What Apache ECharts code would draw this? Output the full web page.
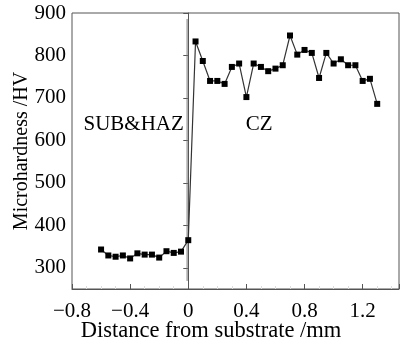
<!DOCTYPE html>
<html><head><meta charset="utf-8">
<script src="https://cdn.jsdelivr.net/npm/echarts@6/dist/echarts.min.js"></script>
<style>html,body{margin:0;padding:0;background:#fff}#c{width:410px;height:342px}</style>
</head><body><div id="c"></div>
<script>
var distance = [-0.60,-0.55,-0.50,-0.45,-0.40,-0.35,-0.30,-0.25,-0.20,-0.15,-0.10,-0.05,0.00,
  0.05,0.10,0.15,0.20,0.25,0.30,0.35,0.40,0.45,0.50,0.55,0.60,0.65,0.70,0.75,0.80,0.85,0.90,0.95,1.00,1.05,1.10,1.15,1.20,1.25,1.30];
var hardness = [343,329,326,329,322,334,331,331,324,339,335,338,365,
  833,787,740,740,733,773,781,702,781,773,763,769,777,847,802,813,806,747,806,781,791,777,777,740,745,686];
var boundaryX = [-0.008,-0.008];
var boundaryY = [269,886];
var xTicks = [-0.8,-0.4,0,0.4,0.8,1.2];
var yTicks = [300,400,500,600,700,800,900];
var zoneLabels = ["SUB&HAZ","CZ"];
var zoneX = [-0.376,0.488];
var zoneY = [638,638];

var font = '"Liberation Serif", "Times New Roman", serif';
var pts = distance.map(function(d,i){return [d,hardness[i]];});
var bnd = boundaryX.map(function(d,i){return [d,boundaryY[i]];});
var chart = echarts.init(document.getElementById('c'), null, {renderer:'canvas'});
chart.setOption({
  animation:false,
  backgroundColor:'#fff',
  grid:{left:72,right:11,top:13,bottom:53,show:true,borderColor:'#555',borderWidth:1,
    containLabel:false,outerBoundsMode:'none'},
  xAxis:{type:'value',min:-0.8,max:1.45,interval:0.4,
    name:'Distance from substrate /mm',nameLocation:'middle',nameGap:31,nameMoveOverlap:false,
    nameTextStyle:{fontFamily:font,fontSize:22.5,color:'#000',padding:[0,49,0,0]},
    axisLine:{show:true,lineStyle:{color:'#555',width:1}},
    axisTick:{show:true,inside:true,length:5,lineStyle:{color:'#555'}},
    minorTick:{show:true,splitNumber:4,length:3,lineStyle:{color:'#ddd'}},
    splitLine:{show:false},
    axisLabel:{fontFamily:font,fontSize:21,color:'#000',margin:12,showMaxLabel:false,
      formatter:function(v){
        var ok = xTicks.some(function(t){return Math.abs(t-v)<1e-6;});
        if(!ok) return '';
        return (v<0?'\u2212':'')+Math.abs(v).toString();
      }}
  },
  yAxis:{type:'value',min:250,max:900,
    name:'Microhardness /HV',nameLocation:'middle',nameGap:40,nameMoveOverlap:false,
    nameTextStyle:{fontFamily:font,fontSize:20,color:'#000'},
    axisLine:{show:true,lineStyle:{color:'#555',width:1}},
    axisTick:{show:true,inside:false,length:5,lineStyle:{color:'#555'},customValues:yTicks},
    splitLine:{show:false},
    axisLabel:{fontFamily:font,fontSize:21,color:'#000',margin:6,customValues:yTicks}
  },
  series:[
    {type:'line',data:bnd,symbol:'none',lineStyle:{color:'#777',width:1},silent:true,z:1},
    {type:'line',data:pts,symbol:'rect',symbolSize:6,
      itemStyle:{color:'#000'},lineStyle:{color:'#333',width:1.2},z:3},
    {type:'scatter',data:zoneLabels.map(function(t,i){return {value:[zoneX[i],zoneY[i]],name:t};}),
      symbolSize:0,silent:true,
      label:{show:true,position:'inside',formatter:'{b}',fontFamily:font,fontSize:21,color:'#000',opacity:1},z:4}
  ]
});
</script></body></html>
